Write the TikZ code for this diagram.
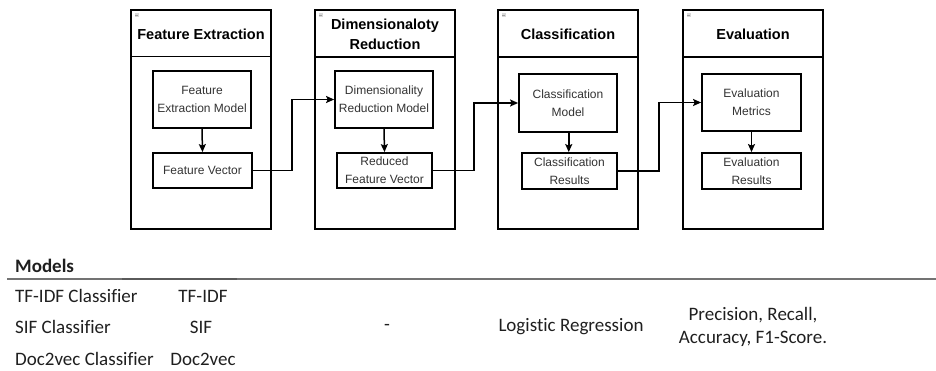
\documentclass[tikz,border=0pt]{standalone}
\usepackage{fontspec}
\setmainfont{Liberation Sans}
\newfontfamily\tablefont[Ligatures=NoCommon]{Carlito}
\usetikzlibrary{arrows.meta}

\definecolor{inktext}{HTML}{333333}
\definecolor{rulegray}{HTML}{737373}
\definecolor{rulemid}{HTML}{5A5A5A}
\definecolor{iconfill}{HTML}{D9D9D9}
\definecolor{iconline}{HTML}{A0A0A0}

\tikzset{
  stage/.style={draw=black, line width=1.8pt, fill=white},
  stagetitle/.style={font=\fontsize{14.5}{20}\selectfont\bfseries, text=black, align=center, inner sep=0pt},
  stepbox/.style={draw=black, line width=1.8pt, fill=white, align=center,
    font=\fontsize{12}{18}\selectfont, text=inktext, inner sep=0pt},
  flow/.style={line width=1.5pt, -{Stealth[length=8pt,width=7pt,inset=1.5pt]}},
  link/.style={line width=1.5pt, -{Stealth[length=8pt,width=7pt,inset=1.5pt]}},
  tabletext/.style={font=\tablefont\fontsize{19}{23}\selectfont, text=black!88, inner sep=0pt},
}

\newcommand{\stagebox}[4]{%
  % #1 = name, #2 = left x, #3 = title, #4 = header line y
  \draw[stage] (#2,10) rectangle (#2+140,229);
  \draw[line width=1.8pt] (#2,#4) -- (#2+140,#4);
  \node[stagetitle] (#1) at (#2+70,34) {#3};
  \fill[iconfill] (#2+3.5,13) rectangle (#2+7.5,17);
  \draw[iconline, line width=0.5pt] (#2+4.3,15) -- (#2+6.7,15);
}

\begin{document}
\begin{tikzpicture}[x=1pt, y=-1pt]
  \useasboundingbox (0,0) rectangle (936,371);

  % four pipeline stages
  \stagebox{tfe}{131}{Feature Extraction}{56.5}
  \stagebox{tdr}{315}{Dimensionaloty\\Reduction}{57}
  \stagebox{tcl}{498}{Classification}{57}
  \stagebox{tev}{683}{Evaluation}{57}

  % inner steps
  \node[stepbox, minimum width=98pt, minimum height=57pt] (fem) at (202,99.5) {Feature\\Extraction Model};
  \node[stepbox, minimum width=99pt, minimum height=35pt] (fv)  at (202.5,170.5) {Feature Vector};

  \node[stepbox, minimum width=98pt, minimum height=57pt] (drm) at (384,99.5) {Dimensionality\\Reduction Model};
  \node[stepbox, minimum width=95pt, minimum height=35pt] (rfv) at (384.5,170.5) {Reduced\\Feature Vector};

  \node[stepbox, minimum width=98pt, minimum height=58pt] (cm)  at (568,103) {Classification\\Model};
  \node[stepbox, minimum width=95pt, minimum height=36pt] (cr)  at (569.5,171) {Classification\\Results};

  \node[stepbox, minimum width=99pt, minimum height=57pt] (em)  at (751.5,102.5) {Evaluation\\Metrics};
  \node[stepbox, minimum width=99pt, minimum height=36pt] (er)  at (751.5,171) {Evaluation\\Results};

  % arrows inside each stage
  \draw[flow] (fem.south) -- (fv.north);
  \draw[flow] (drm.south) -- (rfv.north);
  \draw[flow] ([xshift=0.75pt]cm.south) -- ([xshift=-0.75pt]cr.north);
  \draw[flow] (em.south) -- (er.north);

  % links between stages
  \coordinate (k1) at (292,0);
  \coordinate (k2) at (474,0);
  \coordinate (k3) at (659,0);
  \draw[link] (fv.east) -- (fv.east -| k1) -- (drm.west -| k1) -- (drm.west);
  \draw[link] (rfv.east) -- (rfv.east -| k2) -- (cm.west -| k2) -- (cm.west);
  \draw[link] (cr.east) -- (cr.east -| k3) -- (em.west -| k3) -- (em.west);

  % table below the pipeline
  \node[tabletext, anchor=west, font=\tablefont\bfseries\fontsize{19}{23}\selectfont] (hdr) at (15,266) {Models};
  \draw[rulegray, line width=2pt] (7,279) -- (936,279);
  \draw[rulemid, line width=2pt] (122,279) -- (237,279);

  \node[tabletext, anchor=west] (m1) at (15,296) {TF-IDF Classifier};
  \node[tabletext, anchor=west] (m2) at (15,327) {SIF Classifier};
  \node[tabletext, anchor=west] (m3) at (15,359) {Doc2vec Classifier};

  \node[tabletext] (f1) at (203,296) {TF-IDF};
  \node[tabletext] (f2) at (201,327) {SIF};
  \node[tabletext] (f3) at (203,359) {Doc2vec};

  \node[tabletext] (dr) at (387,327) {-};
  \node[tabletext] (cl) at (571,327) {Logistic Regression};
  \node[tabletext, align=center] (ev) at (753,326.5) {Precision, Recall,\\Accuracy, F1-Score.};
\end{tikzpicture}
\end{document}
